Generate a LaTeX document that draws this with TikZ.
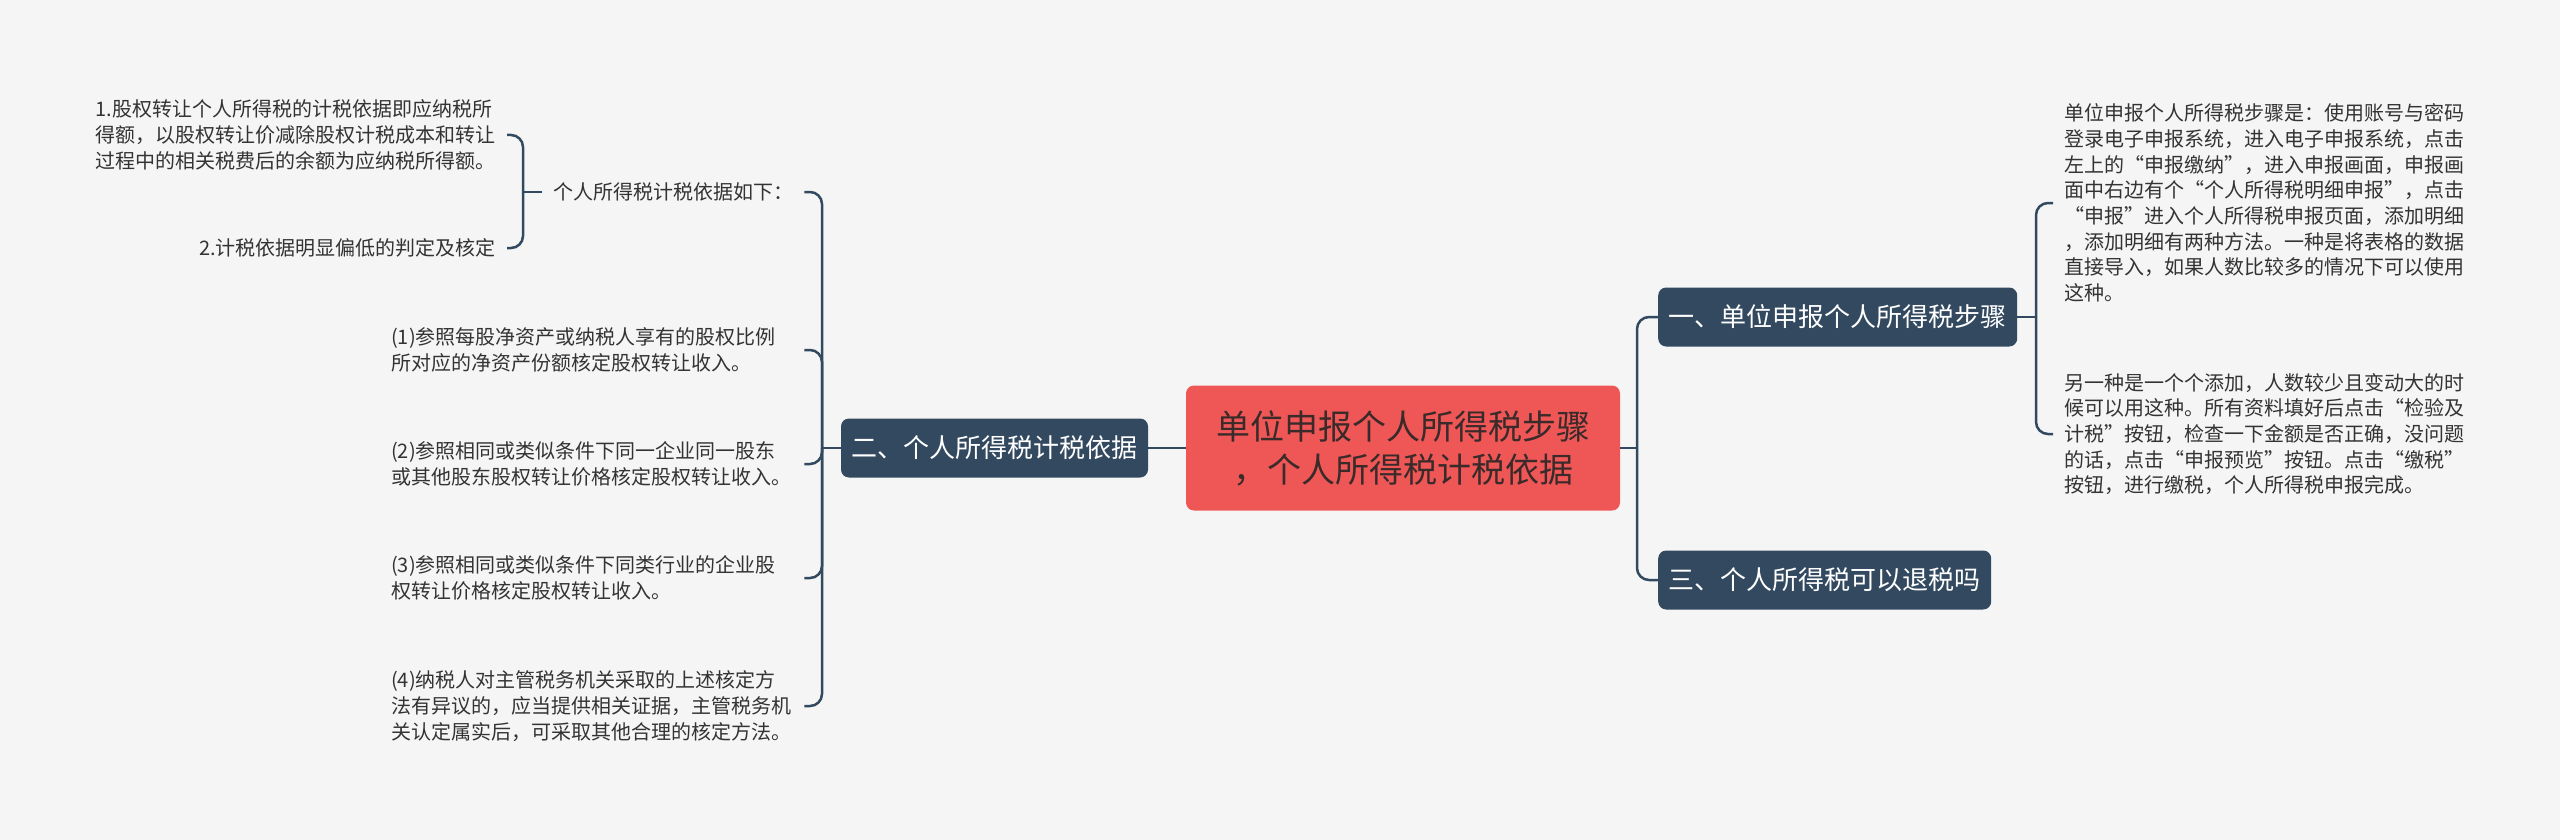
\documentclass[tikz,border=0pt]{standalone}
\usepackage{fontspec}
\setmainfont{Noto Sans CJK SC}

\definecolor{bgc}{HTML}{F5F5F5}
\definecolor{slate}{HTML}{324960}
\definecolor{coral}{HTML}{EF5757}
\definecolor{ink}{HTML}{333333}
\definecolor{rootink}{HTML}{3A2A2A}

\begin{document}
\begin{tikzpicture}[
  x=1pt, y=-1pt,
  link/.style={draw=slate, line width=2.5pt, rounded corners=12pt},
  root/.style={
    rectangle, rounded corners=8pt, fill=coral, text=rootink,
    minimum width=434pt, minimum height=125pt, align=center,
    font=\fontsize{34}{43}\selectfont
  },
  topic/.style={
    rectangle, rounded corners=8pt, fill=slate, text=white,
    minimum height=59pt, inner xsep=10.5pt,
    font=\fontsize{26}{32}\selectfont
  },
  leaf/.style={text=ink, inner xsep=11pt, align=left, font=\fontsize{20}{25.7}\selectfont},
  note/.style={leaf, text width=402pt}
]

% --- Canvas ---
\useasboundingbox (0,0) rectangle (2560,840);
\fill[bgc] (0,0) rectangle (2560,840);

% --- Root and main topics ---
\node[root] (ctr) at (1403,448) {单位申报个人所得税步骤\\，个人所得税计税依据};
\node[topic] (er) at (994.5,448) {二、个人所得税计税依据};
\node[topic, anchor=west] (one) at (1658,317) {一、单位申报个人所得税步骤};
\node[topic, anchor=west] (three) at (1658,580) {三、个人所得税可以退税吗};

% --- Junctions ---
\coordinate (lj) at (822,448);
\coordinate (rj) at (1637,448);
\coordinate (bj) at (523,192);
\coordinate (oj) at (2036,317);

% =========================================================
% LEFT: 计税依据
% =========================================================
\node[leaf, anchor=west] (basis) at (542,192) {个人所得税计税依据如下：};

\node[leaf, anchor=east] (t1) at (507,135)
  {1.股权转让个人所得税的计税依据即应纳税所\\得额，以股权转让价减除股权计税成本和转让\\过程中的相关税费后的余额为应纳税所得额。};
\node[leaf, anchor=east] (t2) at (507,248) {2.计税依据明显偏低的判定及核定};

\node[note, anchor=west] (q1) at (380,350)
  {(1)参照每股净资产或纳税人享有的股权比例\\所对应的净资产份额核定股权转让收入。};
\node[note, anchor=west] (q2) at (380,464)
  {(2)参照相同或类似条件下同一企业同一股东\\或其他股东股权转让价格核定股权转让收入。};
\node[note, anchor=west] (q3) at (380,578)
  {(3)参照相同或类似条件下同类行业的企业股\\权转让价格核定股权转让收入。};
\node[note, anchor=west] (q4) at (380,706)
  {(4)纳税人对主管税务机关采取的上述核定方\\法有异议的，应当提供相关证据，主管税务机\\关认定属实后，可采取其他合理的核定方法。};

% =========================================================
% RIGHT: 申报步骤
% =========================================================
\node[note, anchor=west] (s1) at (2053,203)
  {单位申报个人所得税步骤是：使用账号与密码\\登录电子申报系统，进入电子申报系统，点击\\左上的“申报缴纳”，进入申报画面，申报画\\面中右边有个“个人所得税明细申报”，点击\\“申报”进入个人所得税申报页面，添加明细\\，添加明细有两种方法。一种是将表格的数据\\直接导入，如果人数比较多的情况下可以使用\\这种。};
\node[note, anchor=west] (s2) at (2053,434)
  {另一种是一个个添加，人数较少且变动大的时\\候可以用这种。所有资料填好后点击“检验及\\计税”按钮，检查一下金额是否正确，没问题\\的话，点击“申报预览”按钮。点击“缴税”\\按钮，进行缴税，个人所得税申报完成。};

% --- Connectors ---
\draw[link] (ctr.west) -- (er.east);
\draw[link] (er.west) -- (lj);
\draw[link] (basis.east) -| (lj);
\foreach \n in {q1,q2,q3,q4}
  \draw[link] (\n.east) -| (lj);
\draw[link] (basis.west) -- (bj);
\draw[link] (t1.east) -| (bj);
\draw[link] (t2.east) -| (bj);

\draw[link] (ctr.east) -- (rj);
\draw[link] (one.west) -| (rj);
\draw[link] (three.west) -| (rj);
\draw[link] (one.east) -- (oj);
\draw[link] (s1.west) -| (oj);
\draw[link] (s2.west) -| (oj);

\end{tikzpicture}
\end{document}
